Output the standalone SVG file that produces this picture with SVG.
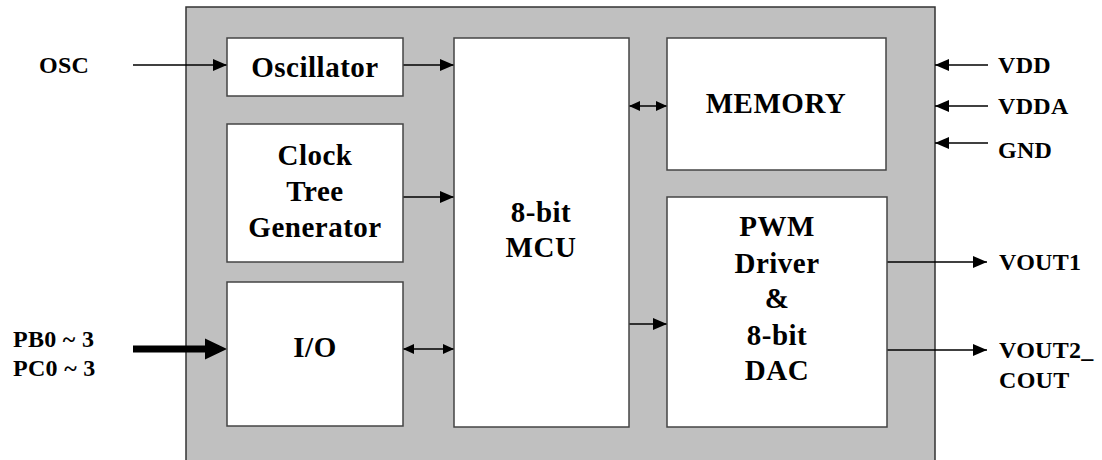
<svg xmlns="http://www.w3.org/2000/svg" width="1102" height="460" viewBox="0 0 1102 460">
<defs>
<style>
.chip{fill:#c0c0c0;stroke:#333;stroke-width:1.5}
.blk{fill:#fff;stroke:#444;stroke-width:1.5}
.t{font-family:"Liberation Serif","Times New Roman",serif;font-weight:bold;font-size:29px;letter-spacing:0.5px;fill:#000;text-anchor:middle}
.lbl{font-family:"Liberation Serif","Times New Roman",serif;font-weight:bold;font-size:24px;letter-spacing:0.3px;fill:#000}
.ln{stroke:#000;stroke-width:1.5;fill:none}
</style>
<marker id="ah" markerUnits="userSpaceOnUse" markerWidth="16" markerHeight="14" refX="14" refY="6" orient="auto">
<path d="M0,0 L14,6 L0,12 Z" fill="#000"/>
</marker>
<marker id="as" markerUnits="userSpaceOnUse" markerWidth="16" markerHeight="14" refX="0" refY="6" orient="auto">
<path d="M14,0 L0,6 L14,12 Z" fill="#000"/>
</marker>
<marker id="ahs" markerUnits="userSpaceOnUse" markerWidth="14" markerHeight="12" refX="11" refY="5" orient="auto">
<path d="M0,0 L11,5 L0,10 Z" fill="#000"/>
</marker>
<marker id="ass" markerUnits="userSpaceOnUse" markerWidth="14" markerHeight="12" refX="0" refY="5" orient="auto">
<path d="M11,0 L0,5 L11,10 Z" fill="#000"/>
</marker>
</defs>
<rect x="0" y="0" width="1102" height="460" fill="#fff"/>
<g id="chip"><rect class="chip" x="186" y="7" width="749" height="460"/></g>

<g id="connectors">
<line class="ln" x1="133" y1="65" x2="227" y2="65" marker-end="url(#ah)"/>
<line class="ln" x1="403" y1="65" x2="454" y2="65" marker-end="url(#ah)"/>
<line class="ln" x1="403" y1="197" x2="454" y2="197" marker-end="url(#ah)"/>
<line class="ln" x1="629" y1="106" x2="667" y2="106" marker-start="url(#ass)" marker-end="url(#ahs)"/>
<line class="ln" x1="403" y1="349" x2="454" y2="349" marker-start="url(#ass)" marker-end="url(#ahs)"/>
<line class="ln" x1="629" y1="324" x2="667" y2="324" marker-end="url(#ah)"/>
<line class="ln" x1="887" y1="262" x2="987" y2="262" marker-end="url(#ah)"/>
<line class="ln" x1="887" y1="350" x2="987" y2="350" marker-end="url(#ah)"/>
<line class="ln" x1="988" y1="65" x2="935" y2="65" marker-end="url(#ah)"/>
<line class="ln" x1="988" y1="106" x2="935" y2="106" marker-end="url(#ah)"/>
<line class="ln" x1="988" y1="143" x2="935" y2="143" marker-end="url(#ah)"/>
<path d="M133,345.5 H205 V338.5 L227,349 L205,359.5 V352.5 H133 Z" fill="#000"/>
</g>

<g id="oscillator"><rect class="blk" x="227" y="38" width="176" height="58"/><text class="t" x="315" y="77">Oscillator</text></g>
<g id="clock"><rect class="blk" x="227" y="124" width="176" height="138"/><text class="t" x="315" y="165">Clock</text><text class="t" x="315" y="201">Tree</text><text class="t" x="315" y="237">Generator</text></g>
<g id="io"><rect class="blk" x="227" y="282" width="176" height="144"/><text class="t" x="315" y="357">I/O</text></g>
<g id="mcu"><rect class="blk" x="454" y="38" width="175" height="389"/><text class="t" x="541" y="222">8-bit</text><text class="t" x="541" y="257">MCU</text></g>
<g id="memory"><rect class="blk" x="667" y="38" width="219" height="132"/><text class="t" x="776" y="113">MEMORY</text></g>
<g id="pwm"><rect class="blk" x="667" y="197" width="220" height="230"/><text class="t" x="777" y="236">PWM</text><text class="t" x="777" y="273">Driver</text><text class="t" x="777" y="308">&amp;</text><text class="t" x="777" y="345">8-bit</text><text class="t" x="777" y="380">DAC</text></g>

<g id="labels">
<text class="lbl" x="39" y="73">OSC</text>
<text class="lbl" x="13" y="347">PB0 ~ 3</text>
<text class="lbl" x="13" y="376">PC0 ~ 3</text>
<text class="lbl" x="998" y="73">VDD</text>
<text class="lbl" x="998" y="114">VDDA</text>
<text class="lbl" x="998" y="158">GND</text>
<text class="lbl" x="999" y="270">VOUT1</text>
<text class="lbl" x="999" y="358">VOUT2_</text>
<text class="lbl" x="999" y="388">COUT</text>
</g>
</svg>
